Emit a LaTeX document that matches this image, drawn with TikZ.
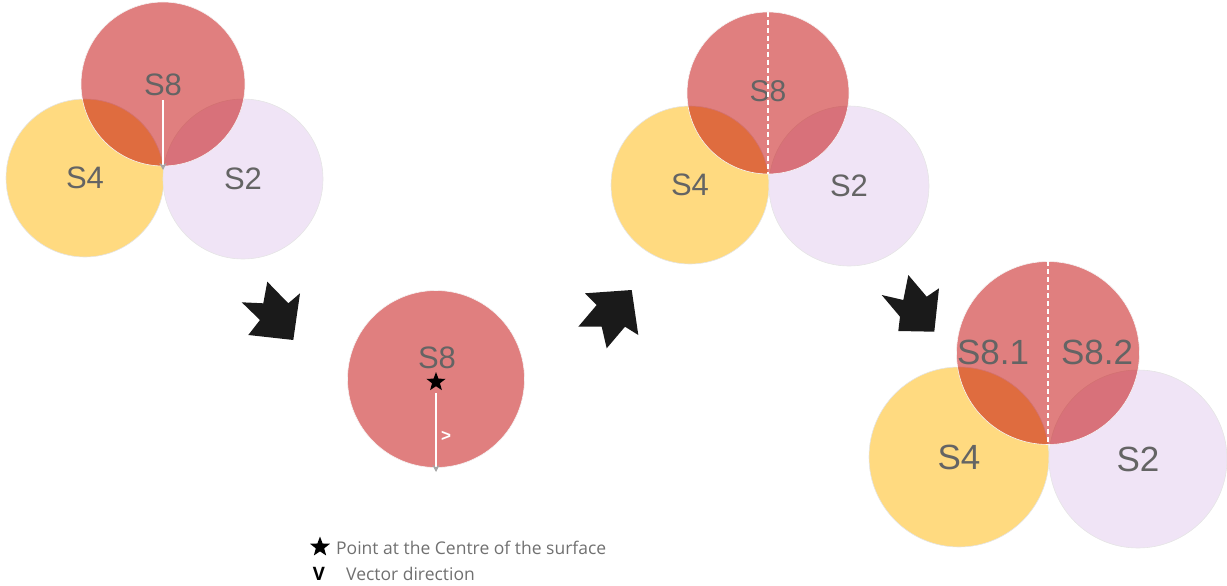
\documentclass[tikz,border=0pt]{standalone}
\usepackage{fontspec}
\setmainfont{Liberation Sans}
\newfontfamily\legfont{Open Sans}
\usetikzlibrary{shapes.geometric,arrows.meta}
\definecolor{sred}{RGB}{193,0,0}
\definecolor{syel}{RGB}{255,218,128}
\definecolor{slav}{RGB}{240,228,246}
\definecolor{labgray}{RGB}{100,100,100}
\definecolor{leggray}{RGB}{112,112,112}
\definecolor{arrowblk}{RGB}{26,26,26}
\definecolor{tipgray}{RGB}{165,165,165}
\tikzset{
  disc/.style={circle,inner sep=0pt,draw=gray!20,line width=0.6pt,text=labgray},
  s4disc/.style={disc,fill=syel},
  s2disc/.style={disc,fill=slav},
  s8disc/.style={disc,fill=sred,fill opacity=0.5,text opacity=1,draw=white!92!gray,draw opacity=1},
  lab/.style={text=labgray,inner sep=0pt},
  dashline/.style={draw=white,line width=1.2pt,dash pattern=on 5pt off 3pt},
  vecline/.style={draw=white,line width=1.3pt,-{Stealth[length=7pt,width=7pt,fill=tipgray,color=tipgray]}},
  bigarrow/.style={fill=arrowblk},
  legtext/.style={text=leggray,anchor=west,inner sep=0pt,font=\legfont\fontsize{17.5}{19}\selectfont},
  starmark/.style={star,star points=5,star point ratio=2.4,fill=black,inner sep=0pt,minimum size=21pt}
}
\begin{document}
\begin{tikzpicture}[x=1pt,y=-1pt]
\useasboundingbox (0,0) rectangle (1227,586);

% ---- group 1
\node[s4disc,minimum size=158pt,font=\fontsize{31}{31}\selectfont] (g1s4) at (85,178) {S4};
\node[s2disc,minimum size=160pt,font=\fontsize{31}{31}\selectfont] (g1s2) at (243,179) {S2};
\node[s8disc,minimum size=164pt] (g1s8) at (163,84) {};
\node[lab,font=\fontsize{31}{31}\selectfont] (g1lab) at (163,85) {S8};
\coordinate (g1top) at (163,100);
\coordinate (g1end) at (163,170);
\draw[vecline] (g1top) -- (g1end);

% ---- arrow 1
\fill[bigarrow] (241.7,302.3) -- (263.3,303.3) -- (267.3,281.7) -- (288.3,303.3) -- (300,293.3) -- (293.3,340) -- (248.3,335) -- (260,320) -- cycle;

% ---- centre circle
\node[s8disc,minimum size=177pt] (c8) at (436,379) {};
\node[lab,font=\fontsize{31}{31}\selectfont] (c8lab) at (437,358) {S8};
\node[starmark,minimum size=20pt] (cstar) at (436,382) {};
\coordinate (cstart) at (436,393);
\coordinate (cend) at (436,472);
\draw[vecline] (cstart) -- (cend);
\node[text=white,font=\bfseries\fontsize{17}{17}\selectfont,inner sep=0pt] (cgt) at (446,436) {>};

% ---- arrow 2
\fill[bigarrow] (585,293.3) -- (631.7,290) -- (638.3,335) -- (625,326.7) -- (606.7,348.3) -- (601.7,326.7) -- (578.3,326.7) -- (596.7,305) -- cycle;

% ---- group 2
\node[s4disc,minimum size=158pt,font=\fontsize{31}{31}\selectfont] (g2s4) at (690,185) {S4};
\node[s2disc,minimum size=160pt,font=\fontsize{31}{31}\selectfont] (g2s2) at (849,186) {S2};
\node[s8disc,minimum size=162pt] (g2s8) at (768,93) {};
\node[lab,font=\fontsize{30}{30}\selectfont] (g2lab) at (768,91.5) {S8};
\draw[dashline] (g2s8.north) -- (g2s8.south);

% ---- arrow 3
\fill[bigarrow] (881.7,295) -- (903.3,300) -- (908.3,275) -- (926.7,296.7) -- (939,288.3) -- (934.3,331.7) -- (898.3,331) -- (900,316.7) -- cycle;

% ---- group 3
\node[s4disc,minimum size=180pt,font=\fontsize{35}{35}\selectfont] (g3s4) at (959,457) {S4};
\node[s2disc,minimum size=178pt,font=\fontsize{35}{35}\selectfont] (g3s2) at (1138,459) {S2};
\node[s8disc,minimum size=183pt] (g3s8) at (1048,353) {};
\node[lab,font=\fontsize{35}{35}\selectfont] (g3l1) at (993,352) {S8.1};
\node[lab,font=\fontsize{35}{35}\selectfont] (g3l2) at (1097,352) {S8.2};
\draw[dashline] (g3s8.north) -- (g3s8.south);

% ---- legend
\node[starmark,minimum size=21pt] (lstar) at (320,547) {};
\node[legtext] (ltext1) at (336,548) {Point at the Centre of the surface};
\node[font=\bfseries\legfont\fontsize{18.5}{18.5}\selectfont,text=black,inner sep=0pt] (lv) at (319,574) {V};
\node[legtext] (ltext2) at (346,574) {Vector direction};
\end{tikzpicture}
\end{document}
